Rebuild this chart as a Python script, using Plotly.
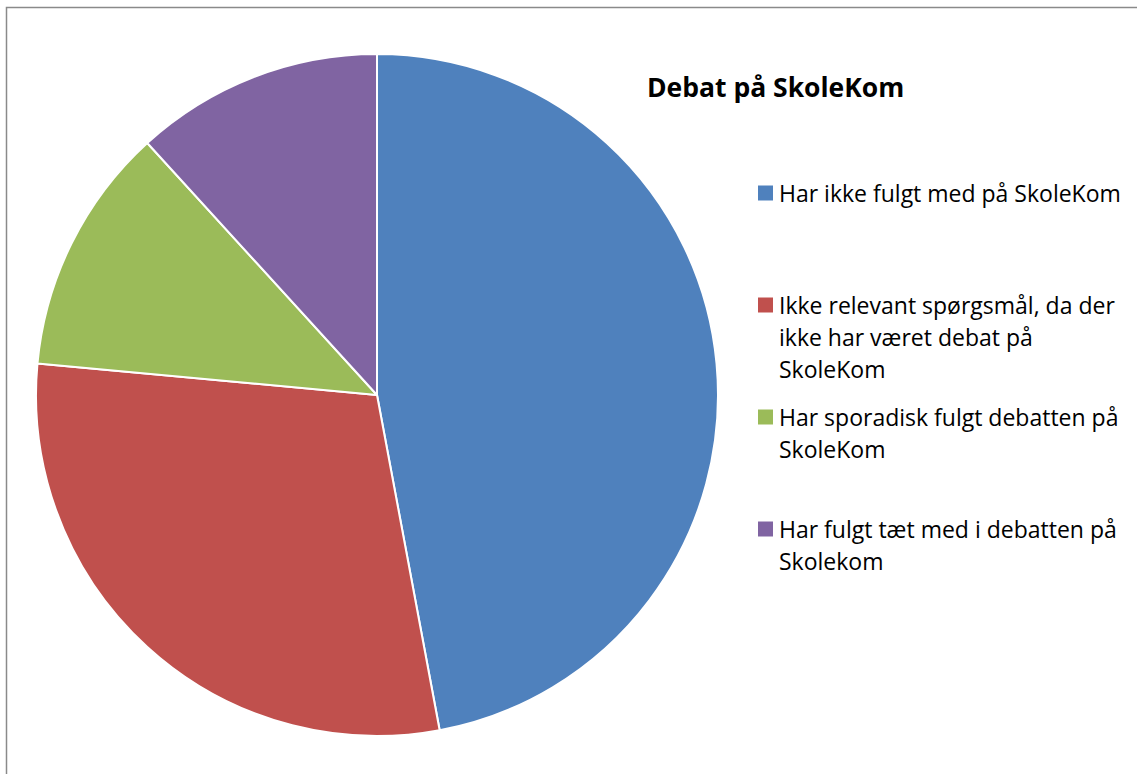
import plotly.graph_objects as go

W, H = 1137, 774

title = "Debat på SkoleKom"
categories = [
    "Har ikke fulgt med på SkoleKom",
    "Ikke relevant spørgsmål, da der ikke har været debat på SkoleKom",
    "Har sporadisk fulgt debatten på SkoleKom",
    "Har fulgt tæt med i debatten på Skolekom",
]
# legend text as wrapped in the reference
legend_lines = [
    ["Har ikke fulgt med på SkoleKom"],
    ["Ikke relevant spørgsmål, da der", "ikke har været debat på", "SkoleKom"],
    ["Har sporadisk fulgt debatten på", "SkoleKom"],
    ["Har fulgt tæt med i debatten på", "Skolekom"],
]
values = [8, 5, 2, 2]
colors = ["#4F81BD", "#C0504D", "#9BBB59", "#8064A2"]

FONT = "Open Sans"

def px(x):
    return x / W

def py(y):
    return 1 - y / H

fig = go.Figure()
fig.add_trace(go.Pie(
    labels=categories,
    values=values,
    sort=False,
    direction="clockwise",
    rotation=0,
    textinfo="none",
    hoverinfo="label+value+percent",
    marker=dict(colors=colors, line=dict(color="white", width=2)),
    domain=dict(x=[px(36), px(718)], y=[py(736), py(54)]),
    showlegend=False,
))

shapes = [
    dict(type="rect", xref="paper", yref="paper",
         x0=px(6.5), x1=px(1200), y0=py(1000), y1=py(7.5),
         line=dict(color="#8a8a8a", width=1.5), fillcolor="rgba(0,0,0,0)", layer="below"),
]
annotations = [
    dict(text="<b>" + title + "</b>", x=px(775), y=py(87), xref="paper", yref="paper",
         xanchor="center", yanchor="middle", showarrow=False,
         font=dict(family=FONT, size=26.5, color="black")),
]

item_top = [193, 305, 417, 529]
line_gap = 32
for i, lines in enumerate(legend_lines):
    yc = item_top[i]
    shapes.append(dict(type="rect", xref="paper", yref="paper",
                       x0=px(758), x1=px(773), y0=py(yc + 7.5), y1=py(yc - 7.5),
                       line=dict(width=0), fillcolor=colors[i]))
    for j, ln in enumerate(lines):
        annotations.append(dict(text=ln, x=px(777), y=py(yc + j * line_gap),
                                xref="paper", yref="paper", xanchor="left", yanchor="middle",
                                showarrow=False,
                                font=dict(family=FONT, size=23, color="black")))

fig.update_layout(
    width=W, height=H,
    margin=dict(l=0, r=0, t=0, b=0),
    paper_bgcolor="white",
    plot_bgcolor="white",
    shapes=shapes,
    annotations=annotations,
    showlegend=False,
)

fig.write_html("out.html",
               config={"displayModeBar": False},
               post_script="document.body.style.margin='0';document.body.style.overflow='hidden';")
